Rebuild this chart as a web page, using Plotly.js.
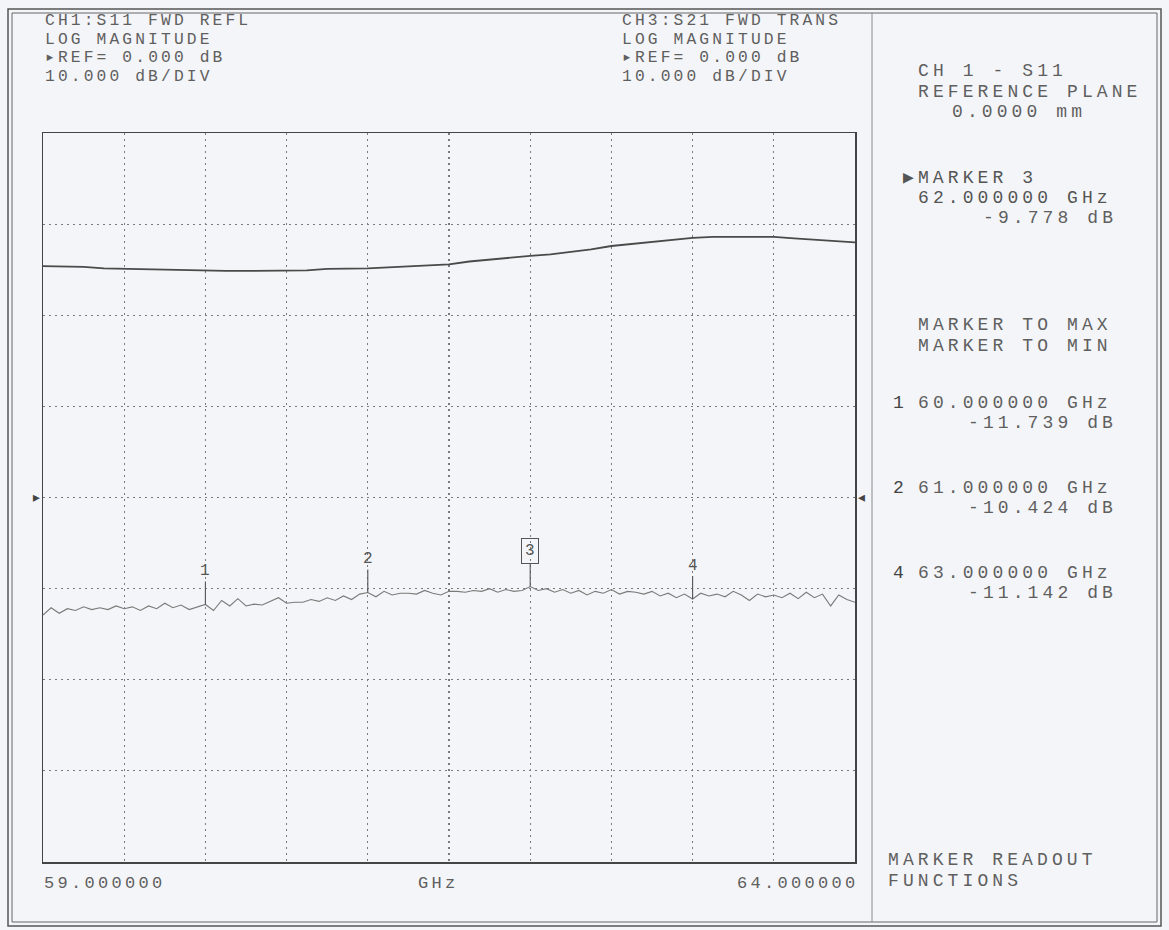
<!DOCTYPE html>
<html>
<head>
<meta charset="utf-8">
<script src="https://cdn.plot.ly/plotly-3.0.1.min.js"></script>
<style>
  html, body { margin: 0; padding: 0; background: #f4f5f8; }
  #chart { width: 1169px; height: 930px; }
</style>
</head>
<body>
<div id="chart"></div>
<script>
// ---------------- data ----------------
const startGHz = 59.0;
const stopGHz = 64.0;

// CH3: S21 FWD TRANS (dB), read at 0.125 GHz steps
const s21Freq = [59.000, 59.125, 59.250, 59.375, 59.500, 59.625, 59.750, 59.875,
  60.000, 60.125, 60.250, 60.375, 60.500, 60.625, 60.750, 60.875,
  61.000, 61.125, 61.250, 61.375, 61.500, 61.625, 61.750, 61.875,
  62.000, 62.125, 62.250, 62.375, 62.500, 62.625, 62.750, 62.875,
  63.000, 63.125, 63.250, 63.375, 63.500, 63.625, 63.750, 63.875, 64.000];
const s21dB = [25.4, 25.36, 25.3, 25.14, 25.08, 25.08, 25.03, 24.92,
  24.92, 24.86, 24.86, 24.86, 24.86, 24.92, 25.08, 25.08,
  25.14, 25.25, 25.36, 25.47, 25.58, 25.9, 26.13, 26.34,
  26.51, 26.67, 26.95, 27.22, 27.6, 27.83, 28.05, 28.27,
  28.49, 28.6, 28.6, 28.6, 28.6, 28.43, 28.27, 28.16, 27.99];

// CH1: S11 FWD REFL (dB), read at 0.05 GHz steps
const s11Freq = [59.00, 59.05, 59.10, 59.15, 59.20, 59.25, 59.30, 59.35, 59.40, 59.45,
  59.50, 59.55, 59.60, 59.65, 59.70, 59.75, 59.80, 59.85, 59.90, 59.95,
  60.00, 60.05, 60.10, 60.15, 60.20, 60.25, 60.30, 60.35, 60.40, 60.45,
  60.50, 60.55, 60.60, 60.65, 60.70, 60.75, 60.80, 60.85, 60.90, 60.95,
  61.00, 61.05, 61.10, 61.15, 61.20, 61.25, 61.30, 61.35, 61.40, 61.45,
  61.50, 61.55, 61.60, 61.65, 61.70, 61.75, 61.80, 61.85, 61.90, 61.95,
  62.00, 62.05, 62.10, 62.15, 62.20, 62.25, 62.30, 62.35, 62.40, 62.45,
  62.50, 62.55, 62.60, 62.65, 62.70, 62.75, 62.80, 62.85, 62.90, 62.95,
  63.00, 63.05, 63.10, 63.15, 63.20, 63.25, 63.30, 63.35, 63.40, 63.45,
  63.50, 63.55, 63.60, 63.65, 63.70, 63.75, 63.80, 63.85, 63.90, 63.95, 64.00];
const s11dB = [-12.9, -12.1, -12.7, -12.2, -12.4, -12.0, -12.3, -12.1, -12.3, -11.9,
  -12.2, -12.0, -12.4, -11.9, -12.2, -11.6, -12.1, -11.8, -12.3, -12.0,
  -11.739, -12.4, -11.3, -11.9, -11.1, -11.9, -11.7, -11.8, -11.4, -11.0,
  -11.6, -11.5, -11.5, -11.2, -11.4, -11.0, -11.3, -10.8, -11.2, -10.6,
  -10.424, -10.9, -10.3, -10.7, -10.5, -10.5, -10.6, -10.2, -10.5, -10.7,
  -10.3, -10.3, -10.4, -10.2, -10.3, -10.0, -10.4, -10.1, -10.3, -10.2,
  -9.778, -10.2, -10.0, -10.4, -10.1, -10.5, -10.2, -10.7, -10.3, -10.5,
  -10.1, -10.6, -10.3, -10.4, -10.6, -10.3, -10.8, -10.5, -11.0, -10.6,
  -11.142, -10.5, -10.8, -10.6, -10.9, -10.3, -10.7, -11.3, -10.6, -10.9,
  -10.7, -11.0, -10.5, -11.1, -10.4, -11.0, -10.6, -11.9, -10.7, -11.2, -11.5];

// markers
const markerIds = ["1", "2", "3", "4"];
const markerFreq = [60.0, 61.0, 62.0, 63.0];
const markerDB = [-11.739, -10.424, -9.778, -11.142];
const activeMarker = "3";

// display settings
const refDB = 0.0;
const dbPerDiv = 10.0;

// ---------------- layout helpers ----------------
const L = 43, R = 855, T = 133, B = 862;
const px = x => (x - L) / (R - L);
const py = y => (B - y) / (B - T);

const ink = '#5f5f5f';
const FONT = 'Liberation Mono, DejaVu Sans Mono, monospace';
const letterSpacing = [];   // per-annotation letter spacing (px)

// places monospace text so that each character occupies `pitch` px
function txt(text, x, y, size, anchor, color, pitch) {
  const n = [...text].length;
  const ls = pitch - 0.6 * size;
  const w = n * pitch - ls;
  let x0 = x;
  if (anchor === 'right') x0 = x - w;
  else if (anchor === 'center') x0 = x - w / 2;
  letterSpacing.push(ls);
  return {
    text: text, xref: 'paper', yref: 'paper', x: px(x0), y: py(y),
    xanchor: 'left', yanchor: 'middle', align: 'left', showarrow: false,
    borderpad: 0, borderwidth: 0,
    font: { family: FONT, size: size, color: color || ink }
  };
}
const fmtF = f => f.toFixed(6);
const fmtDB = v => v.toFixed(3) + ' dB';
const fmtRef = v => v.toFixed(3);

const annotations = [];
function add(a) { annotations.push(a); }

// header blocks
const HS = 16.3, HP = 12.9;
const hdr = [
  ['CH1:S11 FWD REFL', 'CH3:S21 FWD TRANS'],
  ['LOG MAGNITUDE', 'LOG MAGNITUDE'],
  ['\u25B8REF= ' + fmtRef(refDB) + ' dB', '\u25B8REF= ' + fmtRef(refDB) + ' dB'],
  [dbPerDiv.toFixed(3) + ' dB/DIV', dbPerDiv.toFixed(3) + ' dB/DIV']
];
const hdrY = [20, 39, 57.5, 76];
hdr.forEach((row, i) => {
  add(txt(row[0], 45, hdrY[i], HS, 'left', ink, HP));
  add(txt(row[1], 622, hdrY[i], HS, 'left', ink, HP));
});

// right panel
const RS = 18, RP = 14.9;
add(txt('CH 1 - S11', 918, 71, RS, 'left', ink, RP));
add(txt('REFERENCE PLANE', 918, 92, RS, 'left', ink, RP));
add(txt('0.0000 mm', 1017, 112, RS, 'center', ink, RP));
const ai = markerIds.indexOf(activeMarker);
add(txt('\u25B6MARKER ' + activeMarker, 903, 178, RS, 'left', '#555', RP));
add(txt(fmtF(markerFreq[ai]) + ' GHz', 918, 198, RS, 'left', '#555', RP));
add(txt(fmtDB(markerDB[ai]), 1113, 218, RS, 'right', ink, RP));
add(txt('MARKER TO MAX', 918, 325, RS, 'left', ink, RP));
add(txt('MARKER TO MIN', 918, 346, RS, 'left', ink, RP));
const listY = [403, 488, 573];
let k = 0;
markerIds.forEach((id, i) => {
  if (id === activeMarker) return;
  const y0 = listY[k++];
  add(txt(id, 893, y0, RS, 'left', '#444', RP));
  add(txt(fmtF(markerFreq[i]) + ' GHz', 918, y0, RS, 'left', ink, RP));
  add(txt(fmtDB(markerDB[i]), 1113, y0 + 20, RS, 'right', ink, RP));
});
add(txt('MARKER READOUT', 888, 860, RS, 'left', ink, RP));
add(txt('FUNCTIONS', 888, 881, RS, 'left', ink, RP));

// frequency labels below the grid
const BS = 17, BP = 13.5;
add(txt(startGHz.toFixed(6), 44, 883, BS, 'left', ink, BP));
add(txt('GHz', 437, 883, BS, 'center', ink, BP));
add(txt(stopGHz.toFixed(6), 855, 883, BS, 'right', ink, BP));

// reference-position pointers
add(txt('\u25B8', 31, 498, 18, 'left', '#444', 10.8));
add(txt('\u25C2', 856, 498, 18, 'left', '#444', 10.8));

// trace markers (stem + label), placed via data coordinates
markerIds.forEach((id, i) => {
  const boxed = id === activeMarker;
  letterSpacing.push(0);
  add({
    x: markerFreq[i], y: markerDB[i], xref: 'x', yref: 'y',
    text: id, showarrow: true, arrowhead: 0, arrowwidth: 1.1, arrowcolor: '#555',
    ax: 0, ay: boxed ? -36 : -33, standoff: 0,
    font: { family: FONT, size: 16, color: '#555' },
    bordercolor: boxed ? '#555' : 'rgba(0,0,0,0)', borderwidth: boxed ? 1 : 0, borderpad: boxed ? 3 : 1,
    bgcolor: 'rgba(0,0,0,0)'
  });
});

// frames
const shapes = [
  { type: 'rect', xref: 'paper', yref: 'paper', x0: px(8), x1: px(1161), y0: py(926), y1: py(9),
    line: { color: '#555', width: 1.5 } },
  { type: 'rect', xref: 'paper', yref: 'paper', x0: px(12), x1: px(1157), y0: py(922), y1: py(13),
    line: { color: '#666', width: 1 } },
  { type: 'line', xref: 'paper', yref: 'paper', x0: px(872), x1: px(872), y0: py(922), y1: py(13),
    line: { color: '#8a8a8a', width: 1 } }
];

const traces = [
  { x: s21Freq, y: s21dB, type: 'scatter', mode: 'lines', name: 'S21',
    line: { color: '#4a4a4a', width: 1.8 }, hoverinfo: 'skip' },
  { x: s11Freq, y: s11dB, type: 'scatter', mode: 'lines', name: 'S11',
    line: { color: '#7a7a7a', width: 1.1 }, hoverinfo: 'skip' }
];

const gridDash = '1.5px,4.5px';
const layout = {
  width: 1169, height: 930,
  margin: { l: L, r: 1169 - R, t: T, b: 930 - B, pad: 0 },
  paper_bgcolor: '#f4f5f8', plot_bgcolor: '#f4f5f8',
  showlegend: false,
  xaxis: {
    range: [startGHz, stopGHz], dtick: (stopGHz - startGHz) / 10, tick0: startGHz,
    showticklabels: false, ticks: '', zeroline: false,
    showgrid: true, gridcolor: '#7a7a7a', griddash: gridDash, gridwidth: 1.2,
    showline: true, mirror: true, linecolor: '#444', linewidth: 1.5
  },
  yaxis: {
    range: [refDB - 4 * dbPerDiv, refDB + 4 * dbPerDiv], dtick: dbPerDiv, tick0: refDB,
    showticklabels: false, ticks: '', zeroline: false,
    showgrid: true, gridcolor: '#7a7a7a', griddash: gridDash, gridwidth: 1.2,
    showline: true, mirror: true, linecolor: '#444', linewidth: 1.5
  },
  annotations: annotations,
  shapes: shapes
};

const gd = document.getElementById('chart');
function applySpacing() {
  gd.querySelectorAll('g.annotation').forEach(g => {
    const idx = +g.getAttribute('data-index');
    const t = g.querySelector('text.annotation-text');
    if (t && letterSpacing[idx]) t.style.letterSpacing = letterSpacing[idx].toFixed(2) + 'px';
  });
}
Plotly.newPlot(gd, traces, layout, { staticPlot: true, displayModeBar: false }).then(applySpacing);
</script>
</body>
</html>
